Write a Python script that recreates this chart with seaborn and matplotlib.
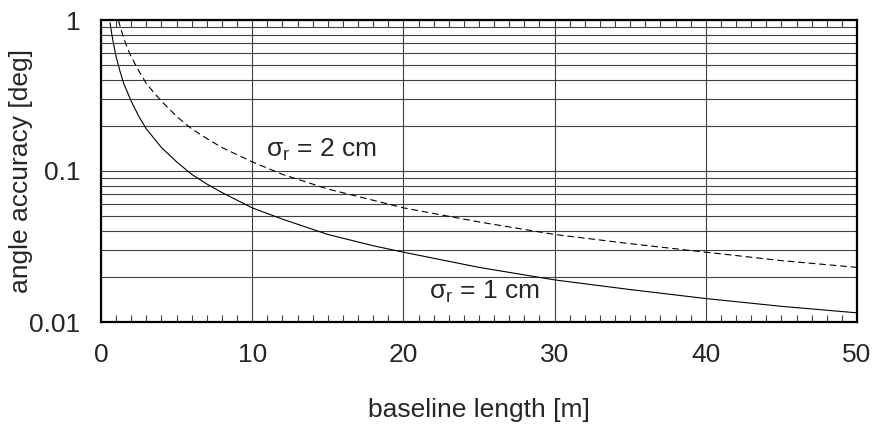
import numpy as np
import pandas as pd
import matplotlib
matplotlib.use("Agg")
import matplotlib.pyplot as plt
import matplotlib.ticker as mticker
import seaborn as sns

# Angle accuracy versus baseline length for two range accuracies
baseline_1cm = [0.6, 0.7, 0.8, 0.9, 1.0, 1.25, 1.5, 2.0, 2.5, 3.0, 4.0, 5.0, 6.0, 7.0, 8.0,
                10.0, 12.0, 15.0, 18.0, 20.0, 25.0, 30.0, 35.0, 40.0, 45.0, 50.0]
accuracy_1cm = [0.96, 0.82, 0.72, 0.64, 0.57, 0.46, 0.38, 0.29, 0.23, 0.19, 0.143, 0.115,
                0.095, 0.082, 0.072, 0.057, 0.048, 0.038, 0.032, 0.029, 0.023, 0.019,
                0.0164, 0.0143, 0.0127, 0.0115]

baseline_2cm = [1.15, 1.3, 1.5, 1.75, 2.0, 2.5, 3.0, 3.5, 4.0, 5.0, 6.0, 7.0, 8.0, 10.0,
                12.0, 15.0, 18.0, 20.0, 25.0, 30.0, 35.0, 40.0, 45.0, 50.0]
accuracy_2cm = [1.0, 0.88, 0.76, 0.65, 0.57, 0.46, 0.38, 0.33, 0.29, 0.23, 0.19, 0.164,
                0.143, 0.115, 0.095, 0.076, 0.064, 0.057, 0.046, 0.038, 0.033, 0.029,
                0.0255, 0.023]

series_labels = ["1 cm", "2 cm"]

df = pd.concat([
    pd.DataFrame({"baseline": baseline_1cm, "accuracy": accuracy_1cm, "sigma": series_labels[0]}),
    pd.DataFrame({"baseline": baseline_2cm, "accuracy": accuracy_2cm, "sigma": series_labels[1]}),
], ignore_index=True)

sns.set_theme(style="white")
plt.rcParams["font.family"] = ["Liberation Sans", "DejaVu Sans"]
plt.rcParams["mathtext.fontset"] = "custom"
plt.rcParams["mathtext.rm"] = "Liberation Sans"
plt.rcParams["mathtext.it"] = "Liberation Sans"

FS = 19

fig, ax = plt.subplots(figsize=(8.75, 4.24), dpi=100)
fig.subplots_adjust(left=101 / 875, right=857 / 875, top=1 - 20 / 424, bottom=1 - 322 / 424)

ax.set_yscale("log")
ax.set_xlim(0, 50)
ax.set_ylim(0.01, 1)

# grid: major verticals every 10 m, horizontal lines at every log decade step
ax.set_axisbelow(True)
ax.grid(True, which="major", axis="both", color="#404040", linewidth=0.8)
ax.grid(True, which="minor", axis="y", color="#404040", linewidth=0.8)

sns.lineplot(data=df, x="baseline", y="accuracy", hue="sigma", style="sigma",
             palette={"1 cm": "black", "2 cm": "black"},
             dashes={"1 cm": "", "2 cm": (6, 3.5)},
             linewidth=0.8, legend=False, ax=ax, sort=False, estimator=None)

ax.xaxis.set_major_locator(mticker.MultipleLocator(10))
ax.xaxis.set_minor_locator(mticker.MultipleLocator(1))
ax.yaxis.set_major_locator(mticker.LogLocator(base=10))
ax.yaxis.set_minor_locator(mticker.LogLocator(base=10, subs=np.arange(2, 10)))
ax.yaxis.set_major_formatter(mticker.FuncFormatter(lambda v, _: f"{v:g}"))
ax.yaxis.set_minor_formatter(mticker.NullFormatter())

ax.tick_params(axis="x", which="both", direction="in", top=True, bottom=True,
               labelsize=FS, pad=15, color="#404040")
ax.tick_params(axis="x", which="minor", length=5, width=0.8)
ax.tick_params(axis="x", which="major", length=0)
ax.tick_params(axis="y", which="both", length=0, labelsize=FS, pad=15)

for s in ax.spines.values():
    s.set_color("black")
    s.set_linewidth(1.6)

ax.set_xlabel("baseline length [m]", fontsize=FS, va="center")
ax.set_ylabel("angle accuracy [deg]", fontsize=FS, va="center")
ax.xaxis.set_label_coords(0.5, -0.29)
ax.yaxis.set_label_coords(-0.106, 0.5)
ax.set_xticks([0, 10, 20, 30, 40, 50])

ax.text(10.9, 0.124, "σ$_\\mathrm{r}$ = 2 cm", fontsize=FS, va="baseline", ha="left")
ax.text(21.7, 0.0142, "σ$_\\mathrm{r}$ = 1 cm", fontsize=FS, va="baseline", ha="left")

fig.savefig("out.png", dpi=100)
